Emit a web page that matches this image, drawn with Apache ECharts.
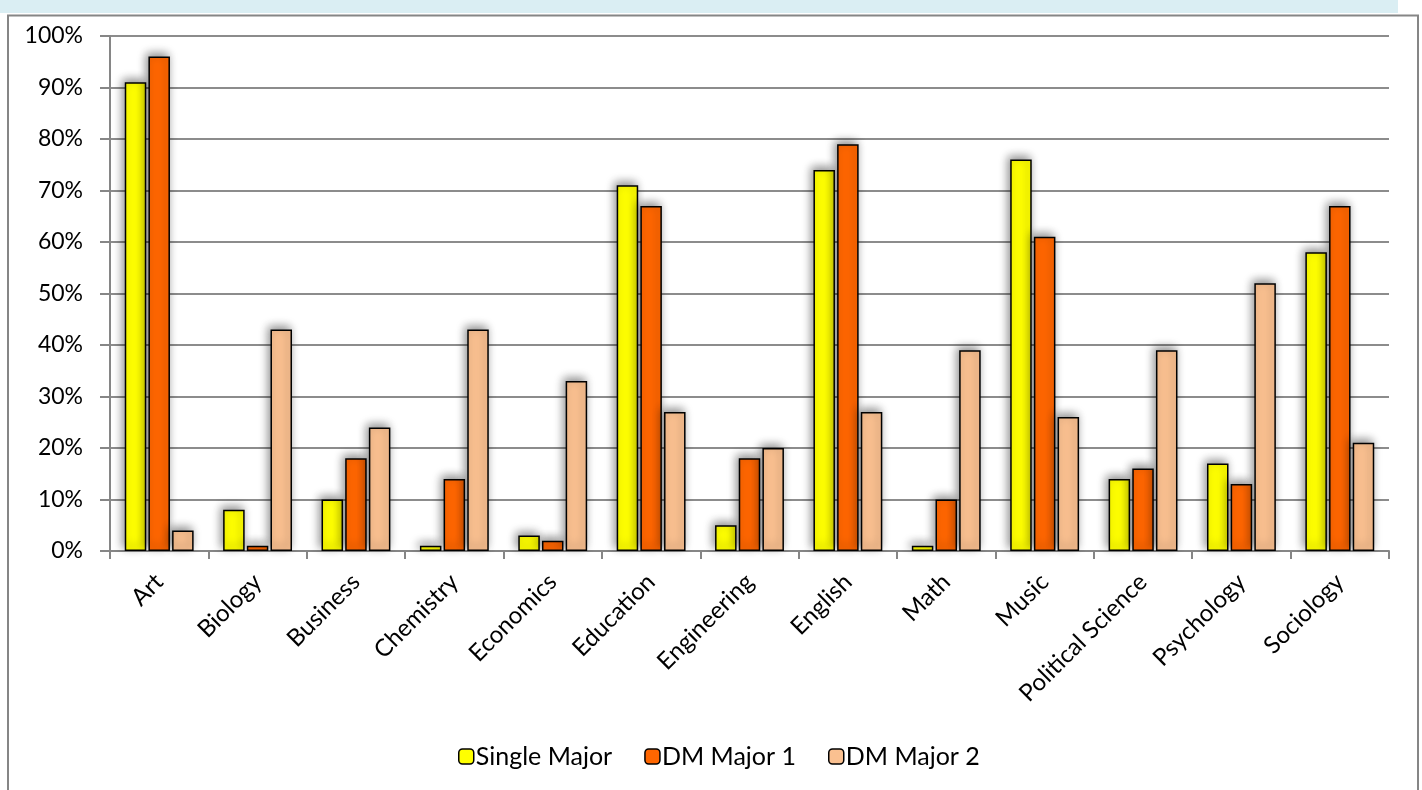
<!DOCTYPE html>
<html><head><meta charset="utf-8">
<script src="https://cdn.jsdelivr.net/npm/echarts@6/dist/echarts.min.js"></script>
<style>html,body{margin:0;padding:0;background:#fff}#c{width:1422px;height:790px}</style>
</head><body><div id="c"></div>
<script>
const categories = ['Art','Biology','Business','Chemistry','Economics','Education','Engineering','English','Math','Music','Political Science','Psychology','Sociology'];
const singleMajor = [91, 8, 10, 1, 3, 71, 5, 74, 1, 76, 14, 17, 58];
const dmMajor1 = [96, 1, 18, 14, 2, 67, 18, 79, 10, 61, 16, 13, 67];
const dmMajor2 = [4, 43, 24, 43, 33, 27, 20, 27, 39, 26, 39, 52, 21];
const seriesNames = ['Single Major', 'DM Major 1', 'DM Major 2'];
const colors = ['#FFFF00', '#FF6600', '#FAC090'];

const font = 'Lato, "Open Sans", sans-serif';
const chart = echarts.init(document.getElementById('c'), null, {renderer: 'canvas'});
function mk(name, data, color) {
  return {
    name, type: 'bar', data,
    barGap: '10%', barCategoryGap: '30%',
    itemStyle: {color, borderColor: '#000', borderWidth: 1.5,
      shadowColor: 'rgba(0,0,0,0.45)', shadowBlur: 10, shadowOffsetX: -2, shadowOffsetY: -3}
  };
}
chart.setOption({
  animation: false,
  textStyle: {fontFamily: font},
  graphic: [
    {type: 'rect', shape: {x: 0, y: 0, width: 1398, height: 13}, style: {fill: '#DAEEF3'}, z: -1},
    {type: 'polyline', shape: {points: [[8, 800], [8, 15.5], [1418, 15.5], [1418, 800]]}, style: {stroke: '#868686', lineWidth: 2, fill: null}, z: -1}
  ],
  grid: {left: 110, right: 33, top: 36, bottom: 239, containLabel: false},
  legend: {
    bottom: 16, left: 453, itemWidth: 15, itemHeight: 15, itemGap: 32,
    textStyle: {fontSize: 25, fontFamily: font, color: '#000', padding: [0, 0, 0, -3]},
    itemStyle: {borderColor: '#000', borderWidth: 1.5, shadowBlur: 0, shadowOffsetX: 0, shadowOffsetY: 0},
    data: seriesNames
  },
  xAxis: {
    type: 'category', data: categories,
    axisLine: {lineStyle: {color: '#868686', width: 2}},
    axisTick: {show: true, length: 8, lineStyle: {color: '#868686', width: 2}},
    axisLabel: {rotate: 45, fontSize: 24, color: '#000', fontFamily: font, margin: 27}
  },
  yAxis: {
    type: 'value', min: 0, max: 100, interval: 10,
    axisLine: {show: true, lineStyle: {color: '#868686', width: 2}},
    axisTick: {show: true, length: 10, lineStyle: {color: '#868686', width: 2}},
    axisLabel: {formatter: '{value}%', fontSize: 23, color: '#000', fontFamily: font, margin: 27},
    splitLine: {lineStyle: {color: '#8c8c8c', width: 2}}
  },
  series: [mk(seriesNames[0], singleMajor, colors[0]), mk(seriesNames[1], dmMajor1, colors[1]), mk(seriesNames[2], dmMajor2, colors[2])]
});
</script></body></html>
